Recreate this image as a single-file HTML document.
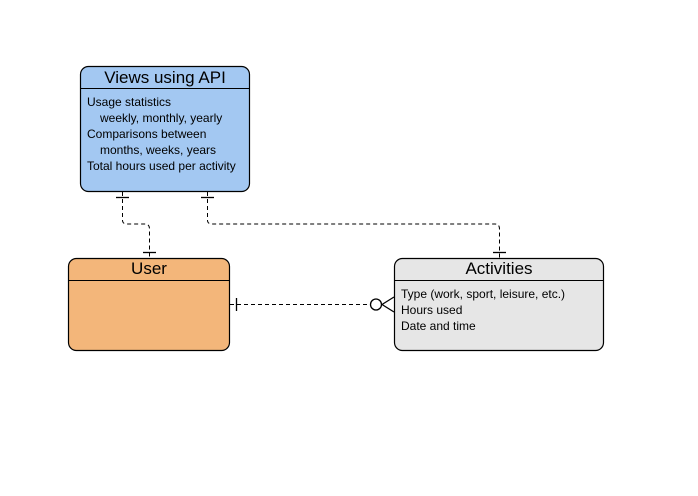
<!DOCTYPE html>
<html><head><style>
body{margin:0;background:#fff;}
svg{display:block;font-family:"Liberation Sans",Arial,sans-serif;}
</style></head><body>
<svg width="698" height="496" viewBox="0 0 698 496">
<rect x="0" y="0" width="698" height="496" fill="#fff"/>
<!-- Views -->
<rect x="80.5" y="66.5" width="169" height="125" rx="8" fill="#a3c8f2" stroke="#000" stroke-width="1.2"/>
<line x1="80.5" y1="88.5" x2="249.5" y2="88.5" stroke="#000"/>
<text x="165" y="83" font-size="17" text-anchor="middle" fill="#000">Views using API</text>
<g font-size="12" fill="#000">
<text x="87" y="106">Usage statistics</text>
<text x="100" y="122">weekly, monthly, yearly</text>
<text x="87" y="138">Comparisons between</text>
<text x="100" y="154">months, weeks, years</text>
<text x="87" y="170">Total hours used per activity</text>
</g>
<!-- User -->
<rect x="68.5" y="258.5" width="161" height="92" rx="8" fill="#f3b67a" stroke="#000" stroke-width="1.2"/>
<line x1="68.5" y1="280.5" x2="229.5" y2="280.5" stroke="#000"/>
<text x="149" y="274" font-size="17" text-anchor="middle" fill="#000">User</text>
<!-- Activities -->
<rect x="394.5" y="258.5" width="209" height="92" rx="8" fill="#e6e6e6" stroke="#000" stroke-width="1.2"/>
<line x1="394.5" y1="280.5" x2="603.5" y2="280.5" stroke="#000"/>
<text x="499" y="274" font-size="17" text-anchor="middle" fill="#000">Activities</text>
<g font-size="12" fill="#000">
<text x="401" y="298">Type (work, sport, leisure, etc.)</text>
<text x="401" y="314">Hours used</text>
<text x="401" y="330">Date and time</text>
</g>
<!-- connectors -->
<g fill="none" stroke="#000" stroke-width="1" stroke-dasharray="4,3">
<path d="M122.5 192 V220 Q122.5 224 127 224 H145 Q149.5 224 149.5 229 V258"/>
<path d="M207.5 192 V220 Q207.5 224 212 224 H495 Q499.5 224 499.5 229 V258"/>
<path d="M230 304.5 H370"/>
</g>
<g stroke="#000" stroke-width="1.3" fill="none">
<line x1="116" y1="197.5" x2="129" y2="197.5"/>
<line x1="201" y1="197.5" x2="214" y2="197.5"/>
<line x1="143" y1="252.5" x2="156" y2="252.5"/>
<line x1="493" y1="252.5" x2="506" y2="252.5"/>
<line x1="236.5" y1="298" x2="236.5" y2="311"/>
<circle cx="376" cy="304.5" r="5.5" fill="#fff"/>
<line x1="382" y1="304.5" x2="394" y2="297"/>
<line x1="382" y1="304.5" x2="394" y2="312"/>
</g>
</svg>
</body></html>
